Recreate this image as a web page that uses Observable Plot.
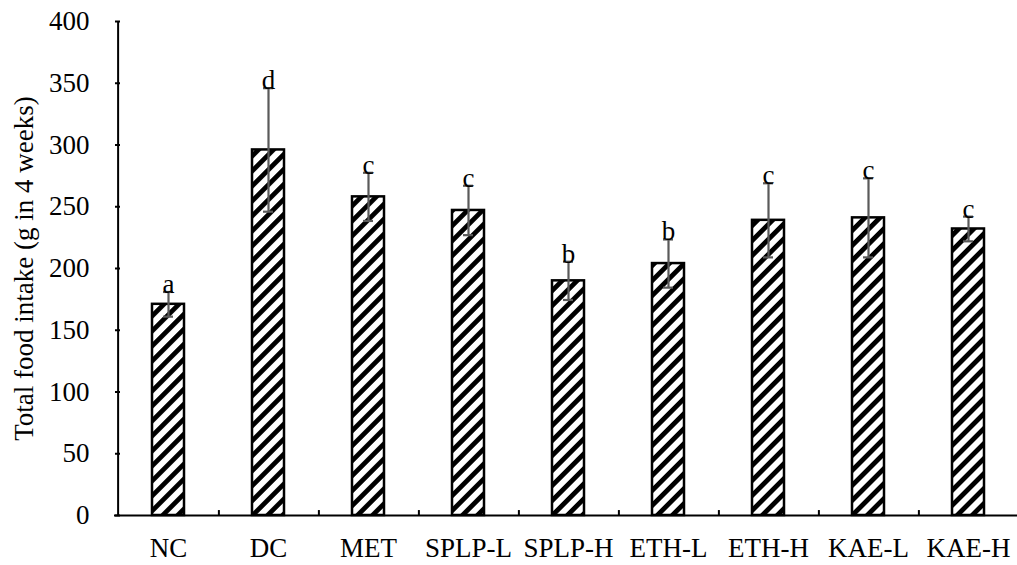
<!DOCTYPE html>
<html>
<head>
<meta charset="utf-8">
<script src="https://cdn.jsdelivr.net/npm/d3@7"></script>
<script src="https://cdn.jsdelivr.net/npm/@observablehq/plot@0.6"></script>
<style>
  html, body { margin: 0; padding: 0; background: #fff; }
</style>
</head>
<body>
<div id="chart"></div>
<script>
const categories = ["NC", "DC", "MET", "SPLP-L", "SPLP-H", "ETH-L", "ETH-H", "KAE-L", "KAE-H"];
const means = [171, 296, 258, 247, 190, 204, 239, 241, 232];
const errors = [10, 50, 19.5, 20, 15.5, 19.5, 30, 32, 10];
const letters = ["a", "d", "c", "c", "b", "b", "c", "c", "c"];
const yTicks = [0, 50, 100, 150, 200, 250, 300, 350, 400];
const yLabel = "Total food intake (g in 4 weeks)";

const data = categories.map((c, i) => ({cat: c, mean: means[i], err: errors[i], letter: letters[i]}));
const halfStep = (1021 - 114) / categories.length / 2;

const svg = Plot.plot({
  width: 1017,
  height: 565,
  marginTop: 21,
  marginBottom: 50,
  marginLeft: 114,
  marginRight: 0,
  style: {fontFamily: "'Liberation Serif', 'Times New Roman', serif", fontSize: "27px", color: "#000", background: "#fff"},
  x: {domain: categories, padding: 0, range: [114, 1021]},
  y: {domain: [0, 400], ticks: yTicks},
  marks: [
    Plot.barY(data, {x: "cat", y: "mean", fill: "url(#hatch)", stroke: "#000", strokeWidth: 2.5, insetLeft: 34, insetRight: 34}),
    Plot.ruleX(data, {x: "cat", y1: d => d.mean - d.err, y2: d => d.mean + d.err, stroke: "#5a5a5a", strokeWidth: 2.2}),
    Plot.tickY(data, {x: "cat", y: d => d.mean + d.err, stroke: "#5a5a5a", strokeWidth: 2.2, insetLeft: 45, insetRight: 45}),
    Plot.tickY(data, {x: "cat", y: d => d.mean - d.err, stroke: "#5a5a5a", strokeWidth: 2.2, insetLeft: 45, insetRight: 45}),
    Plot.text(data, {x: "cat", y: d => d.mean + d.err, text: "letter", lineAnchor: "bottom", dy: 1, fontSize: 27, fill: "#000"}),
    Plot.ruleY([0], {stroke: "#000", strokeWidth: 2}),
    Plot.ruleX([categories[0]], {dx: -halfStep, y1: 0, y2: 400, stroke: "#000", strokeWidth: 2}),
    Plot.ruleX(categories.slice(0, -1), {x: d => d, dx: halfStep, y1: 0, y2: 4, stroke: "#000", strokeWidth: 2}),
    Plot.axisY({ticks: yTicks, tickSize: 5, dx: 6, text: null, label: null, stroke: "#000", strokeWidth: 2}),
    Plot.axisY({ticks: yTicks, tickSize: 0, tickPadding: 25, fontSize: 27, label: null}),
    Plot.axisY({ticks: [], tickSize: 0, label: yLabel, labelAnchor: "center", labelArrow: "none", labelOffset: 101, fontSize: 27}),
    Plot.axisX({tickSize: 0, tickPadding: 22, fontSize: 27, label: null})
  ]
});

const sel = d3.select(svg);
const defs = sel.insert("defs", ":first-child");
const pat = defs.append("pattern")
  .attr("id", "hatch")
  .attr("patternUnits", "userSpaceOnUse")
  .attr("width", 10.6)
  .attr("height", 10.6)
  .attr("patternTransform", "rotate(45)");
pat.append("rect").attr("width", 10.6).attr("height", 10.6).attr("fill", "#fff");
pat.append("rect").attr("width", 4.8).attr("height", 10.6).attr("fill", "#000");

document.getElementById("chart").appendChild(svg);
</script>
</body>
</html>
